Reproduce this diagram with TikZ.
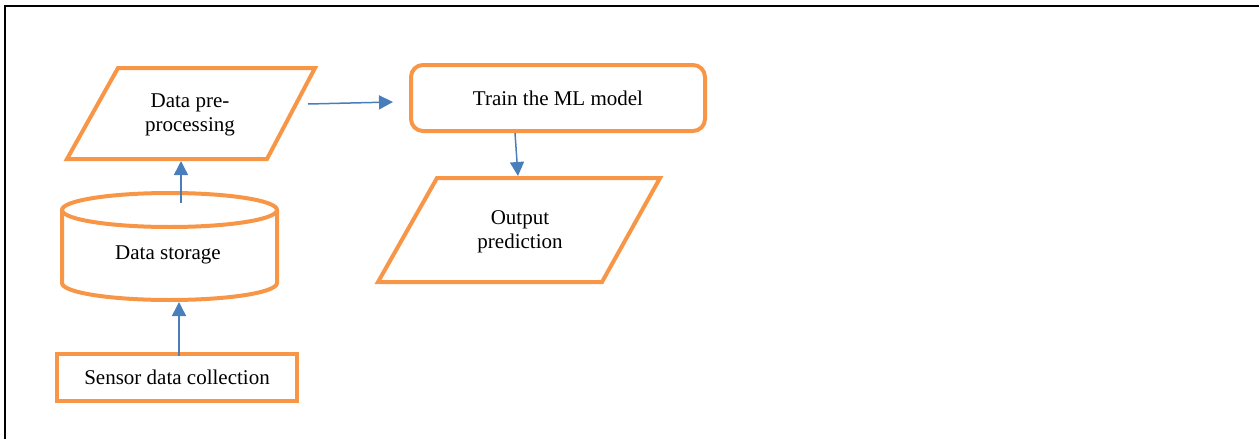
\documentclass[tikz,border=0pt]{standalone}
\usepackage{fontspec}
\setmainfont{Liberation Serif}
\usetikzlibrary{arrows.meta}
\definecolor{borange}{HTML}{F79646}
\definecolor{ablue}{HTML}{4A7EBB}
\tikzset{
  shapeline/.style={draw=borange, line width=4pt, line join=miter},
  txt/.style={inner sep=0pt, align=center, font=\fontsize{21}{24}\selectfont},
  arr/.style={draw=ablue, line width=1.5pt, -{Triangle[length=14pt,width=14pt]}},
}
\begin{document}
\begin{tikzpicture}[x=1pt,y=-1pt]
\useasboundingbox (0,0) rectangle (1259,439);
% page frame
\draw[line width=2pt] (5,439) -- (5,5.5) -- (1259,5.5);

% Data pre-processing (parallelogram)
\draw[shapeline] (118,68) -- (315,68) -- (267,159) -- (67,159) -- cycle;
\node[txt, minimum width=248pt, minimum height=91pt] (pre) at (191,113.5) {};
\node[txt] (pretext) at (190,115) {Data pre-\\processing};

% Data storage (cylinder)
\draw[shapeline] (62,210) -- (62,283) arc[start angle=180, end angle=360, x radius=107.5, y radius=-17] -- (277,210);
\draw[shapeline] (169.5,210) ellipse[x radius=107.5, y radius=17];
\node[txt, minimum width=215pt, minimum height=107pt] (store) at (169.5,246.5) {};
\node[txt] (storetext) at (168,255) {Data storage};

% Sensor data collection
\node[txt, shapeline, minimum width=240pt, minimum height=47pt] (sensor) at (177,377.5) {Sensor data collection};

% Train the ML model
\node[txt, shapeline, rounded corners=12pt, minimum width=294pt, minimum height=66pt] (train) at (558,98) {Train the ML model};

% Output prediction (parallelogram)
\draw[shapeline] (437,178) -- (660,178) -- (602,282) -- (378,282) -- cycle;
\node[txt, minimum width=282pt, minimum height=104pt] (out) at (519,230) {};
\node[txt] (outtext) at (520,231.5) {Output\\prediction};

% connectors
\coordinate (storetop) at (181,203);
\coordinate (prebot) at (181,161);
\coordinate (preright) at (308,104);
\coordinate (trainleft) at (393,102);
\coordinate (trainbot) at (515,133);
\coordinate (outtop) at (518,176);
\coordinate (sensortop) at (179,356);
\coordinate (storebot) at (179,302);

\draw[arr] (sensortop) -- (storebot);
\draw[arr] (storetop) -- (prebot);
\draw[arr] (preright) -- (trainleft);
\draw[arr] (trainbot) -- (outtop);
\end{tikzpicture}
\end{document}
